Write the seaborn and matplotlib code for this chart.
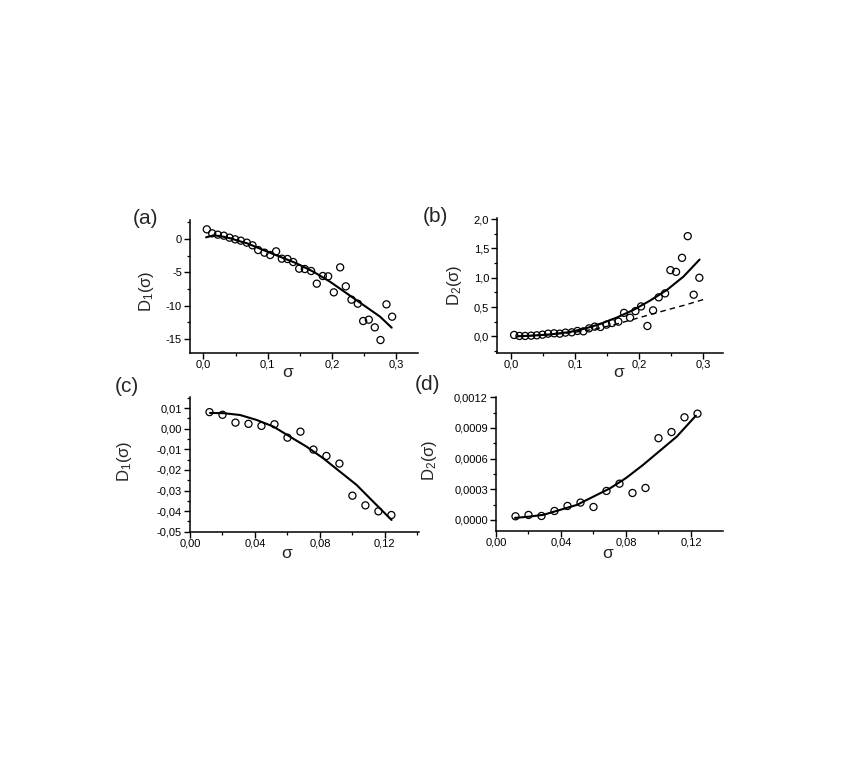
import numpy as np
import pandas as pd
import matplotlib
matplotlib.use("Agg")
import matplotlib.pyplot as plt
from matplotlib.ticker import MultipleLocator, FuncFormatter
import seaborn as sns

# ---------------- data ----------------
sigma_ab = [0.0052, 0.0135, 0.0223, 0.0317, 0.0405, 0.0493, 0.0581, 0.0675, 0.0763, 0.0851,
            0.0950, 0.1038, 0.1131, 0.1220, 0.1308, 0.1396, 0.1490, 0.1578, 0.1676, 0.1764,
            0.1858, 0.1941, 0.2029, 0.2128, 0.2216, 0.2304, 0.2403, 0.2486, 0.2574, 0.2667,
            0.2756, 0.2849, 0.2937]
d1_a = [1.45, 0.85, 0.65, 0.5, 0.2, -0.05, -0.25, -0.55, -0.95, -1.65, -2.05, -2.4, -1.85,
        -2.95, -3.0, -3.45, -4.45, -4.5, -4.8, -6.7, -5.55, -5.6, -8.0, -4.25, -7.1, -9.1,
        -9.7, -12.3, -12.1, -13.25, -15.15, -9.8, -11.65]
d2_b = [0.023, 0.006, 0.006, 0.011, 0.017, 0.028, 0.045, 0.051, 0.045, 0.063, 0.068, 0.091,
        0.085, 0.136, 0.165, 0.159, 0.199, 0.227, 0.25, 0.40, 0.318, 0.43, 0.51, 0.176, 0.443,
        0.665, 0.733, 1.13, 1.10, 1.34, 1.71, 0.71, 1.00]

fit_a_x = [0.004, 0.016, 0.028, 0.042, 0.055, 0.068, 0.093, 0.119, 0.145, 0.171, 0.197, 0.223, 0.249, 0.275, 0.293]
fit_a_y = [0.25, 0.55, 0.4, 0.1, -0.3, -0.65, -1.65, -2.65, -3.65, -4.9, -6.4, -8.15, -9.9, -11.65, -13.3]

fit_b_x = [0.01, 0.03, 0.06, 0.09, 0.115, 0.139, 0.165, 0.191, 0.217, 0.243, 0.269, 0.294]
fit_b_y = [0.0, 0.01, 0.03, 0.07, 0.13, 0.21, 0.32, 0.45, 0.61, 0.79, 1.02, 1.31]
dash_b_x = [0.01, 0.05, 0.10, 0.13, 0.165, 0.191, 0.243, 0.27, 0.3026]
dash_b_y = [0.0, 0.02, 0.07, 0.12, 0.21, 0.29, 0.45, 0.53, 0.636]

sigma_cd = [0.012, 0.020, 0.028, 0.036, 0.044, 0.052, 0.060, 0.068, 0.076, 0.084,
            0.092, 0.100, 0.108, 0.116, 0.124]
d1_c = [0.0081, 0.0068, 0.0030, 0.0024, 0.0014, 0.0022, -0.0043, -0.0014, -0.0101, -0.0132,
        -0.0169, -0.0325, -0.0372, -0.0401, -0.0419]
d2_d = [0.000036, 0.000049, 0.000039, 0.000088, 0.000137, 0.000170, 0.000127, 0.000284,
        0.000355, 0.000264, 0.000313, 0.000800, 0.000860, 0.001004, 0.001040]

fit_c_x = [0.0123, 0.0205, 0.0308, 0.041, 0.0513, 0.0615, 0.0718, 0.082, 0.0923, 0.1026, 0.1128, 0.1241]
fit_c_y = [0.0077, 0.0076, 0.0067, 0.0043, 0.0011, -0.0038, -0.0087, -0.0143, -0.0208, -0.0273, -0.0354, -0.0443]

fit_d_x = [0.0117, 0.02, 0.0291, 0.0497, 0.0702, 0.08, 0.0906, 0.1112, 0.123]
fit_d_y = [0.00002, 0.000032, 0.00005, 0.000147, 0.00031, 0.00041, 0.00054, 0.000815, 0.00102]

panel_labels = ["(a)", "(b)", "(c)", "(d)"]
ylabels = ["D$_1$(σ)", "D$_2$(σ)", "D$_1$(σ)", "D$_2$(σ)"]

# ---------------- style ----------------
sns.set_style("ticks")
plt.rcParams["font.family"] = ["Liberation Sans", "DejaVu Sans"]
plt.rcParams["mathtext.fontset"] = "custom"
plt.rcParams["mathtext.rm"] = "Liberation Sans"
plt.rcParams["mathtext.it"] = "Liberation Sans"
plt.rcParams["mathtext.default"] = "regular"
plt.rcParams["axes.unicode_minus"] = False

W, H = 861, 763
fig = plt.figure(figsize=(W / 100, H / 100), dpi=100)
fig.patch.set_facecolor("white")

def px_axes(left, top, right, bottom):
    return fig.add_axes([left / W, 1 - bottom / H, (right - left) / W, (bottom - top) / H])

ax_a = px_axes(190, 220, 418, 352.7)
ax_b = px_axes(497.3, 218, 723.3, 352.7)
ax_c = px_axes(190, 397.3, 419, 531.7)
ax_d = px_axes(496, 397.3, 723, 530.7)
axes = [ax_a, ax_b, ax_c, ax_d]

def comma(dec):
    def f(v, p):
        if abs(v) < 1e-12:
            v = 0.0
        return (f"{v:.{dec}f}").replace(".", ",")
    return FuncFormatter(f)

def scatter(ax, x, y):
    sns.scatterplot(x=x, y=y, ax=ax, marker="o", s=26, facecolors="none",
                    edgecolors="black", linewidths=0.9, zorder=3, legend=False)

def line(ax, x, y, ls="-", lw=1.5):
    sns.lineplot(x=x, y=y, ax=ax, color="black", lw=lw, linestyle=ls,
                 estimator=None, sort=False, zorder=2, legend=False)

line(ax_a, fit_a_x, fit_a_y)
scatter(ax_a, sigma_ab, d1_a)
line(ax_b, dash_b_x, dash_b_y, ls=(0, (4, 3)), lw=1.0)
line(ax_b, fit_b_x, fit_b_y)
scatter(ax_b, sigma_ab, d2_b)
line(ax_c, fit_c_x, fit_c_y)
scatter(ax_c, sigma_cd, d1_c)
line(ax_d, fit_d_x, fit_d_y)
scatter(ax_d, sigma_cd, d2_d)

# limits / ticks
ax_a.set_xlim(-0.021, 0.334); ax_a.set_ylim(-17.05, 2.85)
ax_b.set_xlim(-0.021, 0.331); ax_b.set_ylim(-0.28, 2.02)
ax_c.set_xlim(0, 0.141); ax_c.set_ylim(-0.05, 0.0153)
ax_d.set_xlim(0, 0.1397); ax_d.set_ylim(-0.000105, 0.0012)

ax_a.xaxis.set_major_locator(MultipleLocator(0.1)); ax_a.xaxis.set_minor_locator(MultipleLocator(0.05))
ax_a.yaxis.set_major_locator(MultipleLocator(5)); ax_a.yaxis.set_minor_locator(MultipleLocator(2.5))
ax_a.xaxis.set_major_formatter(comma(1)); ax_a.yaxis.set_major_formatter(comma(0))

ax_b.xaxis.set_major_locator(MultipleLocator(0.1)); ax_b.xaxis.set_minor_locator(MultipleLocator(0.05))
ax_b.yaxis.set_major_locator(MultipleLocator(0.5)); ax_b.yaxis.set_minor_locator(MultipleLocator(0.25))
ax_b.xaxis.set_major_formatter(comma(1)); ax_b.yaxis.set_major_formatter(comma(1))

ax_c.xaxis.set_major_locator(MultipleLocator(0.04)); ax_c.xaxis.set_minor_locator(MultipleLocator(0.02))
ax_c.yaxis.set_major_locator(MultipleLocator(0.01)); ax_c.yaxis.set_minor_locator(MultipleLocator(0.005))
ax_c.xaxis.set_major_formatter(comma(2)); ax_c.yaxis.set_major_formatter(comma(2))

ax_d.xaxis.set_major_locator(MultipleLocator(0.04)); ax_d.xaxis.set_minor_locator(MultipleLocator(0.02))
ax_d.yaxis.set_major_locator(MultipleLocator(0.0003)); ax_d.yaxis.set_minor_locator(MultipleLocator(0.00015))
ax_d.xaxis.set_major_formatter(comma(2)); ax_d.yaxis.set_major_formatter(comma(4))

# label positions (pixel centres from reference)
ylab_x = [146, 455, 125, 429]
ylab_y = [291, 285, 461, 460]
xlab_x = [288, 619, 287, 608]
xlab_y = [373, 373, 553, 554]
lefts = [190, 497.3, 190, 496]
rights = [418, 723.3, 419, 723]
tops = [220, 218, 397.3, 397.3]
bottoms = [352.7, 352.7, 531.7, 530.7]
plab_pos = [(145, 218), (435, 217), (127, 387), (428, 385)]

for i, ax in enumerate(axes):
    sns.despine(ax=ax)
    for s in ["left", "bottom"]:
        ax.spines[s].set_linewidth(1.1)
        ax.spines[s].set_color("black")
    ax.tick_params(axis="both", which="major", direction="out", length=4, width=1.0,
                   labelsize=8, colors="black")
    ax.tick_params(axis="x", which="major", pad=0.8)
    ax.tick_params(axis="y", which="major", pad=1.8)
    ax.tick_params(axis="both", which="minor", direction="out", length=2.2, width=0.9, colors="black")
    ax.set_facecolor("white")
    w = rights[i] - lefts[i]
    h = bottoms[i] - tops[i]
    ax.set_ylabel(ylabels[i], fontsize=12)
    ax.yaxis.set_label_coords((ylab_x[i] - lefts[i]) / w, (bottoms[i] - ylab_y[i]) / h)
    ax.set_xlabel("σ", fontsize=12.5)
    ax.xaxis.set_label_coords((xlab_x[i] - lefts[i]) / w, (bottoms[i] - xlab_y[i]) / h)
    ax.xaxis.label.set_va("center")
    ax.yaxis.label.set_va("center")
    px, py = plab_pos[i]
    fig.text(px / W, 1 - py / H, panel_labels[i], fontsize=15, ha="center", va="center")

fig.savefig("out.png", dpi=100, facecolor="white")
